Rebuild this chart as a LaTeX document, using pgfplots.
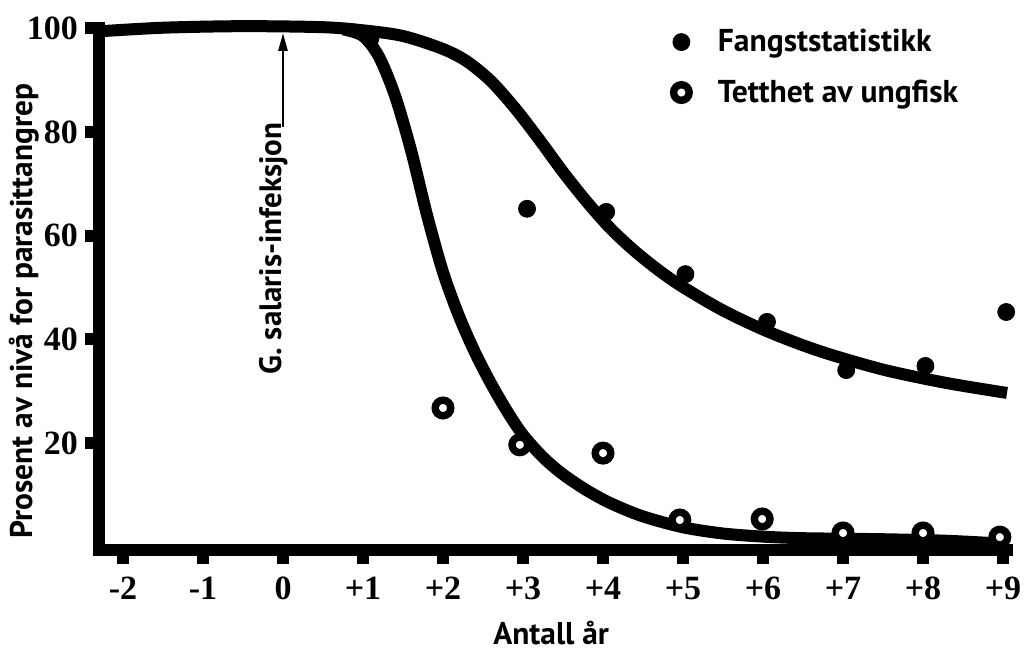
\documentclass[border=0pt]{standalone}
\usepackage{fontspec}
\setmainfont{PT Sans}
\newfontfamily\serifnum{Liberation Serif}
\usepackage{pgfplots}
\pgfplotsset{compat=1.18}
\usetikzlibrary{arrows.meta}

% fitted curves
\pgfplotstableread{
x y
-2.3 99.4
-1.5 100.1
-0.5 100.4
0.5 100.2
1.0 99.6
1.5 98.5
2.0 96.0
2.3 93.6
2.6 89.8
2.9 84.6
3.2 78.6
3.5 72.3
3.8 66.5
4.1 61.3
4.4 57.0
4.7 53.3
5.0 50.1
5.5 45.6
6.05 41.6
6.7 37.8
7.5 34.2
8.3 31.6
9.05 29.7
}\fangstcurve

\pgfplotstableread{
x y
0.75 99.8
1.0 98.5
1.2 94.5
1.4 87.0
1.6 76.5
1.8 64.0
2.0 53.0
2.2 44.5
2.4 37.5
2.6 31.5
2.8 26.2
3.0 21.6
3.25 17.3
3.5 14.0
3.8 10.9
4.1 8.4
4.5 5.9
5.0 3.8
5.5 2.6
6.0 2.0
6.5 1.7
7.5 1.5
8.3 1.2
9.05 0.6
}\tetthetcurve

\pgfplotstableread{
x y
1.09 97.9
3.05 65.2
4.04 64.6
5.03 52.6
6.05 43.4
7.04 34.1
8.03 34.9
9.04 45.3
}\fangst

\pgfplotstableread{
x y
2.0 26.8
2.96 19.7
4.0 18.1
4.96 5.2
5.99 5.4
7.0 2.7
8.0 2.7
8.96 1.9
}\tetthet

\begin{document}
\begin{tikzpicture}
\begin{axis}[
    x=40pt, y=2.59375pt,
    xmin=-2.3, xmax=9.05, ymin=-0.6, ymax=100,
    axis x line=bottom, axis y line=left,
    axis line style={-, line width=6pt, line cap=rect},
    tick align=outside, major tick length=7pt,
    tick style={line width=6pt, black},
    xtick={-2,...,9},
    xticklabels={-2,-1,0,+1,+2,+3,+4,+5,+6,+7,+8,+9},
    ytick={20,40,60,80,100},
    yticklabels={20,40,60,80,100},
    ticklabel style={font=\serifnum\bfseries\fontsize{17}{20}\selectfont},
    xticklabel style={yshift=-3pt},
    clip=false,
    xlabel={Antall år},
    ylabel={Prosent av nivå for parasittangrep},
    label style={font=\bfseries\fontsize{15.7}{18}\selectfont},
    xlabel style={at={(rel axis cs:0.498,-0.159)}, anchor=center},
    ylabel style={at={(rel axis cs:-0.0826,0.458)}, anchor=center},
    legend style={draw=none, fill=none, at={(rel axis cs:0.625,1.014)}, anchor=north west,
        font=\bfseries\fontsize{15.8}{18}\selectfont, row sep=8.5pt, column sep=12pt},
    legend cell align=left,
]
\addplot[black, line width=6pt, smooth, forget plot] table {\fangstcurve};
\addplot[black, line width=6pt, smooth, forget plot] table {\tetthetcurve};
\addplot[only marks, mark=*, mark size=4.25pt, black] table {\fangst};
\addlegendentry{Fangststatistikk}
\addplot[only marks, mark=*, mark size=3.9pt, black, mark options={fill=white, line width=3.7pt}] table {\tetthet};
\addlegendentry{Tetthet av ungfisk}

\draw[line width=1.3pt, -{Triangle[length=9pt,width=4.5pt]}] (axis cs:0,81) -- (axis cs:0,99.1);
\node[rotate=90, anchor=base west, inner sep=0pt, font=\bfseries\fontsize{15.5}{18}\selectfont]
    at (axis cs:-0.025,33.2) {G. salaris-infeksjon};

\coordinate (bbll) at (axis cs:-3.5375,-20.048);
\coordinate (bbur) at (axis cs:9.3,105.446);
\end{axis}
\pgfresetboundingbox
\path (bbll) rectangle (bbur);
\end{tikzpicture}
\end{document}
